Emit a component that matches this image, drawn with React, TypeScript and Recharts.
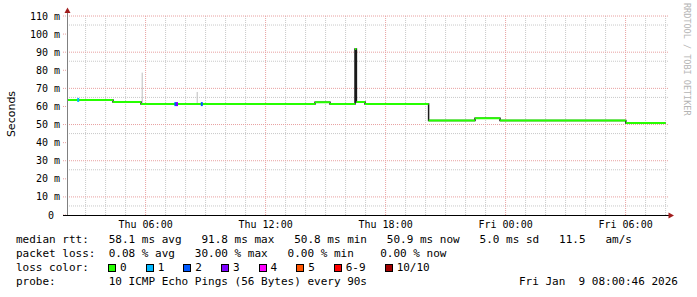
import { ComposedChart, Line, Scatter, XAxis, YAxis, CartesianGrid } from "recharts";

// time is in hours counted from Thu 00:00
const segStart = [2.07, 4.37, 5.77, 14.47, 15.22, 16.47, 16.54, 16.97, 20.15, 22.47, 23.72, 30.01];
const segEnd = 32.0;
const medianMs = [63.6, 62.5, 61.3, 62.3, 61.4, 91.8, 62.4, 61.4, 52.2, 53.5, 52.2, 50.9];

const smokeTimes = [5.83, 8.58];
const smokeLow = [61.3, 61.3];
const smokeHigh = [78.7, 68.0];

const lossTimes = [2.63, 7.49, 7.57, 8.81];
const lossMs = [63.6, 61.3, 61.3, 61.3];
const lossIndex = [1, 2, 3, 2];

const hourTicks = [6, 12, 18, 24, 30];
const hourLabels = ["Thu 06:00", "Thu 12:00", "Thu 18:00", "Fri 00:00", "Fri 06:00"];
const minorHours = [3, 4, 5, 7, 8, 9, 10, 11, 13, 14, 15, 16, 17, 19, 20, 21, 22, 23, 25, 26, 27, 28, 29, 31, 32];
const msTicks = [0, 10, 20, 30, 40, 50, 60, 70, 80, 90, 100, 110];
const minorMs = [5, 15, 25, 35, 45, 55, 65, 75, 85, 95, 105];

const lossLabels = ["0", "1", "2", "3", "4", "5", "6-9", "10/10"];
const lossColors = ["#26ff00", "#00b8ff", "#0059ff", "#7e00ff", "#ff00ff", "#ff5500", "#ff0000", "#a10000"];

const statsRtt = "median rtt:   58.1 ms avg   91.8 ms max   50.8 ms min   50.9 ms now   5.0 ms sd   11.5   am/s";
const statsLoss = "packet loss:  0.08 % avg   30.00 % max   0.00 % min    0.00 % now";
const probeText = "probe:        10 ICMP Echo Pings (56 Bytes) every 90s";
const stampText = "Fri Jan  9 08:00:46 2026";

const mono = "'DejaVu Sans Mono', monospace";

const greenRows: { t: number; v: number | null }[] = [];
segStart.forEach((s, i) => {
  const e = i + 1 < segStart.length ? segStart[i + 1] : segEnd;
  greenRows.push({ t: s, v: medianMs[i] }, { t: e, v: medianMs[i] }, { t: e, v: null });
});

const stepRows = segStart.map((s, i) => ({ t: s, v: medianMs[i] }));
stepRows.push({ t: segEnd, v: medianMs[medianMs.length - 1] });

const smokeRows: { t: number; v: number | null }[] = [];
smokeTimes.forEach((t, i) => {
  smokeRows.push({ t, v: smokeLow[i] }, { t, v: smokeHigh[i] }, { t, v: null });
});

const lossRows = lossTimes.map((t, i) => ({ t, v: lossMs[i], c: lossColors[lossIndex[i]] }));

const LossMark = (props: any) => {
  const { cx, cy, payload } = props;
  return <rect x={cx - 1} y={cy - 2} width={2} height={4} fill={payload.c} />;
};

export default function App() {
  return (
    <div
      style={{
        position: "absolute",
        left: 0,
        top: 0,
        width: 697,
        height: 297,
        background: "#fff",
        fontFamily: mono,
        fontSize: 11,
        color: "#000",
      }}
    >
      <ComposedChart width={697} height={297} margin={{ top: 16, right: 29, bottom: 62, left: 7 }}>
        <CartesianGrid
          horizontalValues={minorMs}
          verticalValues={minorHours}
          stroke="#c8c8c8"
          strokeDasharray="1 1"
        />
        <CartesianGrid
          horizontalValues={msTicks.slice(1)}
          verticalValues={hourTicks}
          stroke="#e8a0a0"
          strokeDasharray="1 1"
        />
        <XAxis
          type="number"
          dataKey="t"
          domain={[2.07, 32.12]}
          allowDataOverflow
          ticks={hourTicks}
          tickFormatter={(v: number) => hourLabels[hourTicks.indexOf(v)]}
          tick={{ fontSize: 10, fontFamily: mono, fill: "#000" }}
          tickSize={0}
          tickMargin={6}
          tickLine={false}
          axisLine={false}
          height={20}
        />
        <YAxis
          type="number"
          domain={[0, 110]}
          ticks={msTicks}
          tickFormatter={(v: number) => (v === 0 ? "0\u00a0" : `${v} m`)}
          tick={{ fontSize: 10, fontFamily: mono, fill: "#000" }}
          tickSize={4}
          tickMargin={3}
          tickLine={{ stroke: "#e8a0a0", strokeDasharray: "1 1" }}
          axisLine={false}
          width={60}
        />
        <Line
          data={smokeRows}
          dataKey="v"
          type="linear"
          stroke="#bdbdbd"
          strokeWidth={1}
          dot={false}
          activeDot={false}
          isAnimationActive={false}
        />
        <Line
          data={stepRows}
          dataKey="v"
          type="stepAfter"
          stroke="#1a1a1a"
          strokeWidth={1.5}
          dot={false}
          activeDot={false}
          isAnimationActive={false}
        />
        <Line
          data={greenRows}
          dataKey="v"
          type="linear"
          stroke={lossColors[0]}
          strokeWidth={2}
          dot={false}
          activeDot={false}
          isAnimationActive={false}
        />
        <Scatter data={lossRows} dataKey="v" shape={LossMark} isAnimationActive={false} />
      </ComposedChart>

      <svg
        width={697}
        height={297}
        style={{ position: "absolute", left: 0, top: 0, pointerEvents: "none" }}
      >
        <line x1={67.5} y1={215} x2={67.5} y2={11} stroke="#808080" strokeWidth={1} />
        <line x1={63} y1={215.5} x2={670} y2={215.5} stroke="#000" strokeWidth={1} />
        <polygon points="67.5,7.5 64.5,13 70.5,13" fill="#a11d1d" />
        <polygon points="674,215.5 668.5,212.5 668.5,218.5" fill="#a11d1d" />
        <text
          x={11}
          y={114}
          transform="rotate(-90 11 114)"
          textAnchor="middle"
          dominantBaseline="central"
          fontFamily="'DejaVu Sans', sans-serif"
          fontSize={11}
          fill="#000"
        >
          Seconds
        </text>
        <text
          x={687}
          y={3}
          transform="rotate(90 687 3)"
          textAnchor="start"
          dominantBaseline="central"
          fontFamily={mono}
          fontSize={8.5}
          fill="#b4b4b4"
        >
          RRDTOOL / TOBI OETIKER
        </text>
      </svg>

      <div style={{ position: "absolute", left: 16, top: 233, lineHeight: "14px", whiteSpace: "pre" }}>
        {statsRtt}
      </div>
      <div style={{ position: "absolute", left: 16, top: 247, lineHeight: "14px", whiteSpace: "pre" }}>
        {statsLoss}
      </div>
      <div style={{ position: "absolute", left: 16, top: 261, lineHeight: "14px", whiteSpace: "pre" }}>
        loss color:
      </div>
      <div
        style={{
          position: "absolute",
          left: 108,
          top: 261,
          height: 14,
          lineHeight: "14px",
          display: "flex",
          alignItems: "center",
          whiteSpace: "pre",
        }}
      >
        {lossLabels.map((label, i) => (
          <span key={label} style={{ display: "inline-flex", alignItems: "center", marginRight: 19 }}>
            <span
              style={{
                display: "inline-block",
                width: 6,
                height: 6,
                border: "1px solid #000",
                background: lossColors[i],
                marginRight: 4,
              }}
            />
            {label}
          </span>
        ))}
      </div>
      <div style={{ position: "absolute", left: 16, top: 275, lineHeight: "14px", whiteSpace: "pre" }}>
        {probeText}
      </div>
      <div style={{ position: "absolute", left: 519, top: 275, lineHeight: "14px", whiteSpace: "pre" }}>
        {stampText}
      </div>
    </div>
  );
}
